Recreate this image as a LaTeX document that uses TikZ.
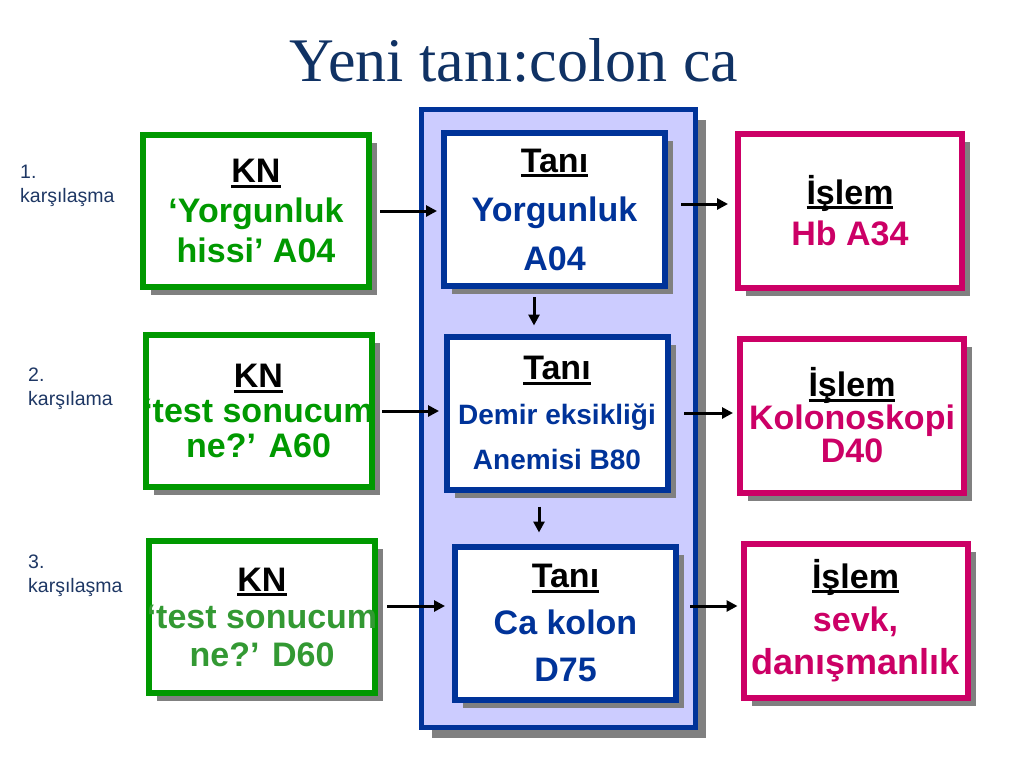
\documentclass[tikz,border=0pt]{standalone}
\usepackage{fontspec}
\setmainfont{Liberation Sans}
\newfontfamily\titlefont{Liberation Serif}
\usetikzlibrary{shadows,arrows.meta}
\definecolor{kgreen}{RGB}{0,153,0}
\definecolor{kgreenb}{RGB}{51,153,51}
\definecolor{kblue}{RGB}{0,51,153}
\definecolor{kpink}{RGB}{204,0,102}
\definecolor{kpanel}{RGB}{204,204,255}
\definecolor{ktitle}{RGB}{16,50,100}
\definecolor{klabel}{RGB}{30,55,100}
\newcommand\hdr[1]{{\color{black}\setbox0\hbox{#1}\rlap{\rule[-5pt]{\wd0}{3pt}}\box0}}
\newcommand\wideline[1]{\makebox[200pt][c]{#1}}
\tikzset{
  box/.style={rectangle, inner sep=0pt, line width=6pt, fill=white, align=center,
    general shadow={fill=gray, shadow xshift=8pt, shadow yshift=-8pt}},
  kn/.style={box, draw=kgreen, text=kgreen, minimum width=226pt, minimum height=152pt},
  tani/.style={box, draw=kblue, text=kblue, minimum width=221pt, minimum height=153pt},
  islem/.style={box, draw=kpink, text=kpink, minimum width=224pt, minimum height=154pt},
  panelbox/.style={rectangle, draw=kblue, fill=kpanel, line width=5pt, inner sep=0pt,
    minimum width=274pt, minimum height=618pt,
    general shadow={fill=gray, shadow xshift=10pt, shadow yshift=-10pt}},
  arr/.style={line width=3pt, -{Triangle[length=11pt,width=11pt]}},
  lbl/.style={anchor=north west, inner sep=0pt, align=left, text=klabel,
    font=\fontsize{19.5}{24}\selectfont},
}
\begin{document}
\begin{tikzpicture}[x=1pt,y=-1pt]
\useasboundingbox (0,0) rectangle (1024,768);
% title
\node[font=\titlefont\fontsize{62}{62}\selectfont, text=ktitle] (title) at (514,60) {Yeni tanı:colon ca};
% left labels
\node[lbl] (l1) at (20,165) {1.\\karşılaşma};
\node[lbl] (l2) at (28,368) {2.\\karşılama};
\node[lbl] (l3) at (28,555) {3.\\karşılaşma};
% panel
\node[panelbox] (panel) at (558.5,418.5) {};
% green boxes
\node[kn, font=\bfseries\fontsize{34}{40}\selectfont] (g1) at (256,211) {\hdr{KN}\\‘Yorgunluk\\hissi’ A04};
\node[kn, font=\bfseries\fontsize{34}{35}\selectfont] (g2) at (258.5,411) {\hdr{KN}\\\wideline{‘test sonucum}\\ne?’ A60};
\node[kn, text=kgreenb, font=\bfseries\fontsize{34}{37.5}\selectfont] (g3) at (262,617) {\hdr{KN}\\\wideline{‘test sonucum}\\ne?’ D60};
% tani boxes
\node[tani, font=\bfseries\fontsize{34}{49}\selectfont] (t1) at (554.5,209.5) {\hdr{Tanı}\\Yorgunluk\\A04};
\node[tani, font=\bfseries\fontsize{34}{45}\selectfont] (t2) at (557,413) {\hdr{Tanı}\\{\fontsize{28}{45}\selectfont Demir eksikliği}\\{\fontsize{28}{45}\selectfont Anemisi B80}};
\node[tani, font=\bfseries\fontsize{34}{47}\selectfont] (t3) at (565.5,623) {\hdr{Tanı}\\Ca kolon\\D75};
% islem boxes
\node[islem, font=\bfseries\fontsize{34}{41}\selectfont] (p1) at (850,210.5) {\hdr{İşlem}\\Hb A34};
\node[islem, font=\bfseries\fontsize{34}{33}\selectfont] (p2) at (852,415.5) {\hdr{İşlem}\\Kolonoskopi\\D40};
\node[islem, font=\bfseries\fontsize{34}{43}\selectfont] (p3) at (855.5,620.5) {\hdr{İşlem}\\sevk,\\\wideline{\fontsize{36}{43}\selectfont danışmanlık}};
% arrows
\draw[arr, shorten <=8pt, shorten >=4pt] (g1.east) -- (g1.east -| t1.west);
\path ([yshift=5.5pt]t1.east) coordinate (r1);
\draw[arr, shorten <=13pt, shorten >=7pt] (r1) -- (r1 -| p1.west);
\draw[arr, shorten <=7.5pt, shorten >=4.5pt] (g2.east) -- (g2.east -| t2.west);
\draw[arr, shorten <=13.5pt, shorten >=4pt] (t2.east) -- (t2.east -| p2.west);
\path ([yshift=11pt]g3.east) coordinate (r3a);
\draw[arr, shorten <=9pt, shorten >=7pt] (r3a) -- (r3a -| t3.west);
\path ([yshift=17pt]t3.east) coordinate (r3b);
\draw[arr, shorten <=11pt, shorten >=3pt] (r3b) -- (r3b -| p3.west);
\path ([xshift=-20.5pt]t1.south) coordinate (v1);
\draw[arr, shorten <=8pt, shorten >=8pt] (v1) -- (v1 |- t2.north);
\path ([xshift=-18pt]t2.south) coordinate (v2);
\draw[arr, shorten <=14pt, shorten >=11pt] (v2) -- (v2 |- t3.north);
\end{tikzpicture}
\end{document}
